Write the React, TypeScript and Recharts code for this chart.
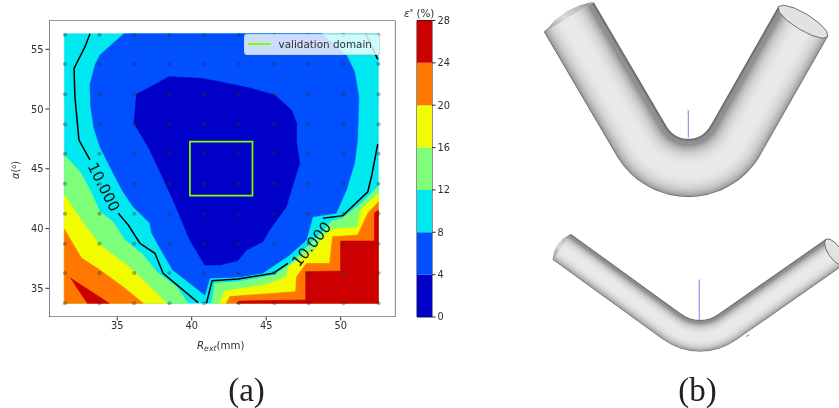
import React from 'react';
import { BarChart, Bar, ScatterChart, Scatter, XAxis, YAxis, Legend, ReferenceArea } from 'recharts';

type Pair = [number, number];

// ---- panel (a): contour map, everything in (Rext, alpha) ----
const xTicks = [35, 40, 45, 50];
const yTicks = [35, 40, 45, 50, 55];
const xDomain: Pair = [30.42, 53.68];
const yDomain: Pair = [32.6, 57.41];

const gridX = [31.49, 33.81, 36.14, 38.51, 40.84, 43.16, 45.55, 47.85, 50.19, 52.54];
const gridY = [33.75, 36.28, 38.73, 41.24, 43.75, 46.26, 48.72, 51.23, 53.77, 56.2];

const fieldBox: Pair[] = [[31.45, 33.75], [52.53, 33.75], [52.53, 56.3], [31.45, 56.3]];

const band4to8: Pair[] = [
  [35.45, 56.3], [33.84, 54.52], [33.51, 53.69], [33.17, 52.01], [33.22, 50.2], [33.44, 48.39], [33.84, 46.85],
  [34.73, 44.65], [35.32, 43.23], [36.07, 41.83], [37.19, 40.46], [37.31, 39.63], [38.06, 37.95], [38.73, 36.53],
  [39.87, 35.44], [40.88, 34.44], [41.21, 35.86], [43.22, 35.95], [44.77, 36.28], [46.57, 37.79], [47.69, 39.04],
  [48.12, 40.99], [49.7, 41.3], [50.38, 43.23], [50.93, 45.49], [51.13, 47.41], [51.22, 51.03], [50.93, 53.13],
  [50.38, 54.52], [48.72, 56.3],
];
const band0to4: Pair[] = [
  [38.49, 52.71], [36.3, 51.23], [36.12, 48.81], [37.19, 46.57], [38.75, 42.39], [39.87, 39.04], [40.88, 36.95],
  [41.88, 36.95], [43.09, 37.31], [43.67, 38.2], [44.77, 38.9], [45.23, 39.88], [46.35, 41.83], [46.69, 43.23],
  [47.25, 45.49], [47.04, 47.16], [47.04, 48.83], [46.69, 49.92], [45.57, 51.18], [43.89, 51.76], [41.88, 52.29],
  [40.54, 52.57],
];
const band12Left: Pair[] = [
  [31.45, 46.15], [32.5, 44.76], [33.17, 43.23], [33.84, 41.41], [34.71, 40.57], [35.52, 39.04], [36.74, 37.79],
  [37.64, 36.39], [38.98, 35.13], [39.76, 33.75], [31.45, 33.75],
];
const band16Left: Pair[] = [
  [31.45, 42.81], [32.72, 40.44], [33.84, 38.62], [35.63, 36.95], [36.97, 35.42], [38.31, 33.75], [31.45, 33.75],
];
const band20Left: Pair[] = [
  [31.45, 39.94], [32.61, 37.51], [33.84, 36.53], [35.38, 35.13], [36.74, 33.75], [31.45, 33.75],
];
const band24Left: Pair[] = [[31.88, 35.84], [34.46, 33.75], [32.99, 33.75]];
const band12Right: Pair[] = [
  [41.33, 33.75], [41.55, 35.42], [43.11, 35.55], [45.57, 36.11], [46.8, 37.23], [47.78, 38.54], [48.72, 39.63],
  [49.39, 40.63], [50.15, 40.88], [51.4, 42.14], [51.94, 42.81], [52.53, 43.56], [52.53, 33.75],
];
const band16Right: Pair[] = [
  [41.82, 33.75], [42.22, 34.77], [44.9, 35.28], [46.35, 35.95], [46.51, 36.87], [48.25, 38.21], [48.92, 39.46],
  [49.46, 39.96], [51.13, 40.13], [51.33, 41.55], [52.53, 42.95], [52.53, 33.75],
];
const band20Right: Pair[] = [
  [42.33, 33.75], [42.55, 34.31], [46.98, 34.72], [47.04, 35.97], [47.71, 37.08], [49.26, 37.08], [49.46, 39.32],
  [51.15, 39.46], [51.82, 41.28], [52.53, 42.22], [52.53, 33.75],
];
const band24Right: Pair[] = [
  [43.02, 33.75], [43.22, 33.94], [47.65, 34.02], [47.65, 36.39], [49.99, 36.45], [49.99, 38.96], [52.27, 38.96],
  [52.27, 41.3], [52.53, 41.55], [52.53, 33.75],
];

const contourA: Pair[] = [[33.17, 56.3], [32.84, 55.22], [32.1, 53.41], [32.16, 51.03], [32.43, 47.41], [33.17, 45.74]];
const contourB: Pair[] = [[35.07, 41.28], [35.74, 40.3], [36.52, 38.77], [37.53, 37.93], [38.08, 36.26], [40.43, 33.8]];
const contourC: Pair[] = [[40.99, 33.75], [41.37, 35.64], [43.11, 35.78], [45.46, 36.26], [46.46, 37.09]];
const contourD: Pair[] = [[48.81, 40.86], [50.15, 41.08], [51.82, 43.08], [52.09, 44.48], [52.49, 47.08]];
const contourE: Pair[] = [[51.67, 56.3], [52.49, 54.16]];
const contourLabelLeft: Pair[] = [[34.11, 43.48]];
const contourLabelRight: Pair[] = [[48.03, 38.71]];

const validationBox: Pair[] = [[39.88, 42.75], [44.08, 42.75], [44.08, 47.27], [39.88, 47.27]];

// ---- colour bar ----
const barLevels = [0, 4, 8, 12, 16, 20, 24, 28];
const barColors = ['#0000c8', '#0050ff', '#00e8f0', '#7dff7a', '#f2fb00', '#ff7600', '#cc0000'];

// ---- panel (b): the two bent tubes ----
const upperTube: Pair[] = [
  [568.8, 17], [641.7, 141.25], [645.46, 146.87], [650.12, 152.18], [655.43, 156.84], [661.3, 160.77],
  [667.63, 163.89], [674.32, 166.16], [681.25, 167.5], [688.3, 168], [695.35, 167.5], [702.28, 166.16],
  [708.97, 163.89], [715.3, 160.77], [721.17, 156.84], [726.48, 152.18], [731.14, 146.87], [734.9, 141.25],
  [803, 21.7],
];
// highlight runs a little towards the outside of the bend
const upperGlow: Pair[] = [
  [566.2, 18.5], [639.11, 142.77], [643.08, 148.7], [648, 154.3], [653.6, 159.22], [659.8, 163.37],
  [666.48, 166.66], [673.54, 169.06], [680.86, 170.47], [688.3, 171], [695.74, 170.47], [703.06, 169.06],
  [710.12, 166.66], [716.8, 163.37], [723, 159.22], [728.6, 154.3], [733.52, 148.7], [737.49, 142.77],
  [805.6, 23.2],
];
const upperCap: Pair[] = [[544.3, 32.3], [554.28, 20.76], [565.8, 11.8], [578.78, 5.46], [593.3, 1.7]];
const upperRim: Pair[] = [
  [827.8, 36.75], [822.33, 38.28], [811.67, 35.38], [798.69, 28.8], [786.87, 20.32], [779.37, 12.22],
  [778.2, 6.65], [783.67, 5.12], [794.33, 8.02], [807.31, 14.6], [819.13, 23.08], [826.63, 31.18],
];
const upperAxis: Pair[] = [[688.3, 111.7], [688.3, 137.3]];

const lowerTube: Pair[] = [
  [561.7, 246.7], [672.2, 326.7], [678.66, 330.68], [685.48, 333.5], [692.65, 335.22], [700, 335.8],
  [707.35, 335.22], [714.52, 333.5], [721.34, 330.68], [727.8, 326.7], [834.8, 252],
];
const lowerGlow: Pair[] = [
  [560.81, 247.91], [671.31, 327.91], [677.98, 332.01], [685.01, 334.93], [692.41, 336.7], [700, 337.3],
  [707.59, 336.7], [714.99, 334.93], [722.02, 332.01], [728.69, 327.91], [835.65, 253.23],
];
const lowerCap: Pair[] = [[552.7, 259.3], [554.3, 250.85], [557.83, 243.81], [563.3, 238.2], [570.7, 234]];
const lowerRim: Pair[] = [
  [843.62, 264.74], [839.77, 264.88], [834.59, 261.57], [829.46, 255.7], [825.77, 248.83], [824.49, 242.82],
  [825.98, 239.26], [829.83, 239.12], [835.01, 242.43], [840.14, 248.3], [843.83, 255.17], [845.11, 261.18],
];
const lowerAxis: Pair[] = [[699.3, 281.7], [699.3, 320]];
const lowerAxisZ: Pair[] = [[746, 336.5], [749.5, 334.6]];

const FONT = '"DejaVu Sans", sans-serif';
const INK = '#2e2e2e';

const pts = (list: Pair[]) => list.map(([x, y]) => ({ x, y }));
const NoMark = () => null;

// filled closed region drawn through the axes
const region = (key: string, list: Pair[], color: string) => (
  <Scatter
    key={key}
    data={pts(list)}
    shape={NoMark}
    line={{ fill: color, stroke: color, strokeWidth: 0.6 }}
    lineJointType="linearClosed"
    legendType="none"
    isAnimationActive={false}
  />
);

const contour = (key: string, list: Pair[], stroke = '#000000') => (
  <Scatter
    key={key}
    data={pts(list)}
    shape={NoMark}
    line={{ stroke, strokeWidth: 1.5, fill: 'none' }}
    legendType="none"
    isAnimationActive={false}
  />
);

const GridDot = ({ cx, cy }: any) => <circle cx={cx} cy={cy} r={2.1} fill="#333333" fillOpacity={0.38} />;

const rotatedLabel = (angle: number) => ({ cx, cy }: any) => (
  <text x={cx} y={cy} dy={5.5} fontSize={15} fontFamily={FONT} fill="#111" textAnchor="middle"
    transform={`rotate(${angle} ${cx} ${cy})`}>
    10.000
  </text>
);

const LegendBox = () => (
  <div style={{
    boxSizing: 'border-box', width: '100%', height: '100%', background: 'rgba(255,255,255,0.8)',
    border: '1px solid rgba(204,204,204,0.8)', borderRadius: 3, display: 'flex', alignItems: 'center',
    fontFamily: FONT, fontSize: 10.4, color: INK, whiteSpace: 'nowrap',
  }}>
    <span style={{ display: 'inline-block', width: 23, height: 1.6, background: '#7fff00', marginLeft: 2.5, marginRight: 8 }} />
    validation domain
  </div>
);

const xAxisLabel = () => (
  <text x={197} y={349} fontSize={10.2} fontFamily={FONT} fill={INK}>
    <tspan fontStyle="italic">R</tspan>
    <tspan fontStyle="italic" fontSize={7.8} dy={2}>ext</tspan>
    <tspan dy={-2}>(mm)</tspan>
  </text>
);

const shades = [
  { w: 1, c: '#666666' }, { w: 0.975, c: '#747474' }, { w: 0.945, c: '#828282' }, { w: 0.91, c: '#909090' },
  { w: 0.87, c: '#9e9e9e' }, { w: 0.825, c: '#ababab' }, { w: 0.775, c: '#b7b7b7' }, { w: 0.72, c: '#c2c2c2' },
  { w: 0.66, c: '#cbcbcb' }, { w: 0.6, c: '#d3d3d3' }, { w: 0.53, c: '#dadada' }, { w: 0.45, c: '#e0e0e0' },
  { w: 0.36, c: '#e5e5e5' }, { w: 0.26, c: '#e9e9e9' },
];

const tube = (key: string, list: Pair[], glow: Pair[], width: number) =>
  shades.map((s, i) => (
    <Scatter
      key={`${key}-${i}`}
      data={pts(s.w < 0.9 ? glow : list)}
      shape={NoMark}
      line={{ stroke: s.c, strokeWidth: width * s.w, fill: 'none', strokeLinejoin: 'round' }}
      legendType="none"
      isAnimationActive={false}
    />
  ));

const cap = (key: string, list: Pair[], fill: string) => (
  <Scatter key={key} data={pts(list)} shape={NoMark} line={{ fill, stroke: 'none' }}
    lineJointType="linearClosed" legendType="none" isAnimationActive={false} />
);

const rim = (key: string, list: Pair[]) => (
  <Scatter key={key} data={pts(list)} shape={NoMark}
    line={{ fill: '#e2e2e2', stroke: '#6e6e6e', strokeWidth: 1 }}
    lineJointType="linearClosed" legendType="none" isAnimationActive={false} />
);

const axisStroke = (key: string, list: Pair[]) => (
  <Scatter key={key} data={pts(list)} shape={NoMark} line={{ stroke: '#6f6fee', strokeWidth: 0.9, fill: 'none' }}
    legendType="none" isAnimationActive={false} />
);

const axisLetter = (letter: string) => ({ cx, cy }: any) => (
  <text x={cx} y={cy} fontSize={4.5} fontFamily={FONT} fill="#6f6fee" textAnchor="middle">{letter}</text>
);

const barRow = [Object.fromEntries(barColors.map((_, i) => [`b${i}`, barLevels[i + 1] - barLevels[i]]))];

export default function App() {
  return (
    <div style={{ position: 'absolute', left: 0, top: 0, width: 839, height: 408, background: '#fff', overflow: 'hidden', filter: 'blur(0.4px)' }}>
      <div style={{ position: 'absolute', left: 0, top: 0 }}>
        <ScatterChart width={396} height={408} margin={{ top: 20.5, right: 0.5, bottom: 0, left: 0 }}>
          <XAxis type="number" dataKey="x" domain={xDomain} ticks={xTicks} allowDataOverflow interval={0}
            height={91} axisLine={false} tickSize={3.5} tickMargin={2}
            tick={{ fontSize: 9.8, fontFamily: FONT, fill: INK }} tickLine={{ stroke: INK }} />
          <YAxis type="number" dataKey="y" domain={yDomain} ticks={yTicks} allowDataOverflow interval={0}
            width={49} axisLine={false} tickSize={3.5} tickMargin={2}
            tick={{ fontSize: 9.8, fontFamily: FONT, fill: INK }} tickLine={{ stroke: INK }} />

          {region('b8', fieldBox, barColors[2])}
          {region('b4', band4to8, barColors[1])}
          {region('b0', band0to4, barColors[0])}
          {region('g1', band12Left, barColors[3])}
          {region('y1', band16Left, barColors[4])}
          {region('o1', band20Left, barColors[5])}
          {region('r1', band24Left, barColors[6])}
          {region('g2', band12Right, barColors[3])}
          {region('y2', band16Right, barColors[4])}
          {region('o2', band20Right, barColors[5])}
          {region('r2', band24Right, barColors[6])}

          {contour('ca', contourA)}
          {contour('cb', contourB)}
          {contour('cc', contourC)}
          {contour('cd', contourD)}
          {contour('ce', contourE)}
          <Scatter data={pts(contourLabelLeft)} shape={rotatedLabel(63)} legendType="none" isAnimationActive={false} />
          <Scatter data={pts(contourLabelRight)} shape={rotatedLabel(-51)} legendType="none" isAnimationActive={false} />

          <Scatter
            data={gridX.flatMap((x) => gridY.map((y) => ({ x, y })))}
            shape={GridDot}
            legendType="none"
            isAnimationActive={false}
          />

          <Scatter
            name="validation domain"
            data={pts(validationBox)}
            shape={NoMark}
            stroke="#7fff00"
            line={{ stroke: '#7fff00', strokeWidth: 1.7, fill: 'none', strokeOpacity: 1 }}
            lineJointType="linearClosed"
            isAnimationActive={false}
          />

          {/* plot frame */}
          <Scatter
            data={[
              { x: xDomain[0], y: yDomain[0] }, { x: xDomain[1], y: yDomain[0] },
              { x: xDomain[1], y: yDomain[1] }, { x: xDomain[0], y: yDomain[1] },
            ]}
            shape={NoMark}
            line={{ stroke: '#333333', strokeWidth: 1.2, fill: 'none' }}
            lineJointType="linearClosed"
            legendType="none"
            isAnimationActive={false}
          />

          <Legend
            layout="horizontal"
            align="center"
            verticalAlign="middle"
            content={LegendBox}
            wrapperStyle={{ left: 244, top: 34, width: 136, height: 20.5, margin: 0 }}
          />

          {xAxisLabel()}
          <text x={19} y={179} fontSize={9.8} fontFamily={FONT} fill={INK} transform="rotate(-90 19 179)">
            <tspan fontStyle="italic">α</tspan>(<tspan fontSize={6.5} dy={-3}>o</tspan><tspan dy={3}>)</tspan>
          </text>
          <text x={246.5} y={401} fontSize={33} fontFamily='"Liberation Serif", serif' fill="#222" textAnchor="middle">(a)</text>
        </ScatterChart>
      </div>

      <div style={{ position: 'absolute', left: 400, top: 0 }}>
        <BarChart width={60} height={408} data={barRow} barCategoryGap={0} margin={{ top: 20.5, right: 0, bottom: 91, left: 17 }}>
          <XAxis hide />
          <YAxis orientation="right" width={28} domain={[0, 28]} ticks={barLevels} interval={0} axisLine={false}
            tickSize={3.5} tickMargin={2} allowDataOverflow
            tick={{ fontSize: 9.8, fontFamily: FONT, fill: INK, textAnchor: 'start' }} tickLine={{ stroke: INK }} />
          {barColors.map((c, i) => (
            <Bar key={c} dataKey={`b${i}`} stackId="cb" fill={c} isAnimationActive={false} />
          ))}
          <ReferenceArea y1={0} y2={28} fill="none" stroke="#222222" strokeWidth={1} />
          <text x={4} y={17} fontSize={10.4} fontFamily={FONT} fill={INK}>
            <tspan fontStyle="italic">ε</tspan><tspan fontSize={7} dy={-3}>*</tspan><tspan dy={3}> (%)</tspan>
          </text>
        </BarChart>
      </div>

      <div style={{ position: 'absolute', left: 530, top: 0 }}>
        <ScatterChart width={309} height={408} margin={{ top: 0, right: 0, bottom: 0, left: 0 }}>
          <defs>
            <linearGradient id="capUpper" x1="0" y1="1" x2="1" y2="0">
              <stop offset="0%" stopColor="#6c6c6c" />
              <stop offset="14%" stopColor="#a9a9a9" />
              <stop offset="45%" stopColor="#dcdcdc" />
              <stop offset="78%" stopColor="#b7b7b7" />
              <stop offset="100%" stopColor="#6c6c6c" />
            </linearGradient>
          </defs>
          <XAxis type="number" dataKey="x" domain={[530, 839]} allowDataOverflow hide />
          <YAxis type="number" dataKey="y" domain={[408, 0]} allowDataOverflow hide />
          {tube('up', upperTube, upperGlow, 58)}
          {cap('upc', upperCap, 'url(#capUpper)')}
          {rim('upr', upperRim)}
          {axisStroke('upa', upperAxis)}
          <Scatter data={pts([upperAxis[0]])} shape={axisLetter('y')} legendType="none" isAnimationActive={false} />
          {tube('lo', lowerTube, lowerGlow, 31.5)}
          {cap('loc', lowerCap, 'url(#capUpper)')}
          {rim('lor', lowerRim)}
          {axisStroke('loa', lowerAxis)}
          {axisStroke('loz', lowerAxisZ)}
          <Scatter data={pts([lowerAxis[0]])} shape={axisLetter('y')} legendType="none" isAnimationActive={false} />
          <text x={167.5} y={401} fontSize={33} fontFamily='"Liberation Serif", serif' fill="#222" textAnchor="middle">(b)</text>
        </ScatterChart>
      </div>
    </div>
  );
}
